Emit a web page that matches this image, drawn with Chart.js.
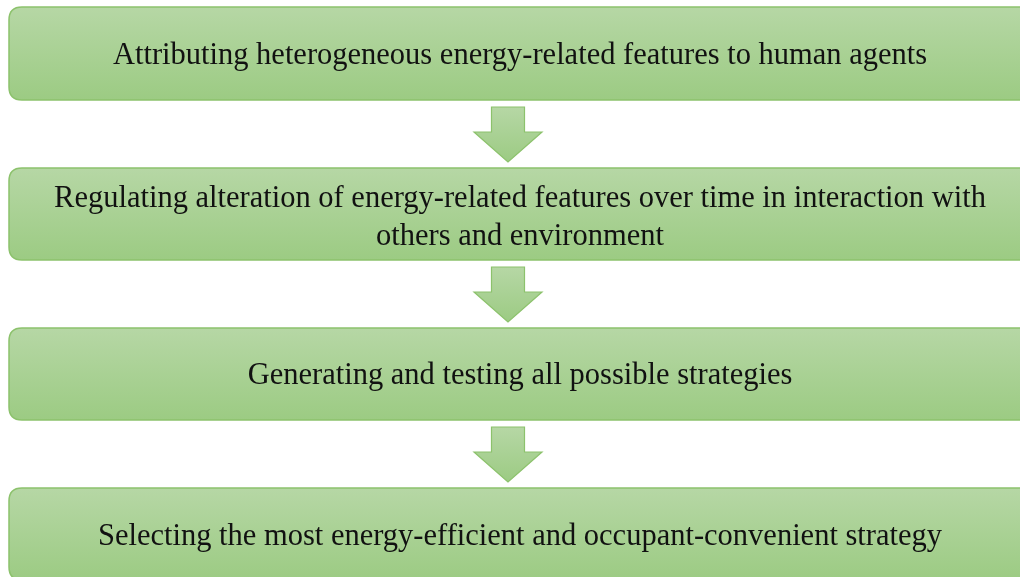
<!DOCTYPE html>
<html>
<head>
<meta charset="utf-8">
<script src="https://cdn.jsdelivr.net/npm/chart.js@4.4.0/dist/chart.umd.min.js"></script>
<style>
  html, body { margin: 0; padding: 0; background: #ffffff; }
  #wrap { width: 1020px; height: 577px; }
</style>
</head>
<body>
<div id="wrap"><canvas id="flowChart" width="1020" height="577"></canvas></div>
<script>
// Flow steps (text lines per box) and box extents in scale units
var stepLines = [
    ["Attributing heterogeneous energy-related features to human agents"],
    ["Regulating alteration of energy-related features over time in interaction with", "others and environment"],
    ["Generating and testing all possible strategies"],
    ["Selecting the most energy-efficient and occupant-convenient strategy"]
];
var boxTops = [7, 168, 328, 488];
var boxBottoms = [100, 260, 420, 580];
var textCenters = [56, 218, 376, 537];
var boxLeft = 9;
var boxRight = 1032;

// Arrows between boxes: [shaftTop, headBase, tip]
var arrowShaftTops = [107, 267, 427];
var arrowHeadBases = [132, 292, 452];
var arrowTips = [162, 322, 482];
var arrowCenter = 508;

function roundRect(ctx, x, y, w, h, r) {
    ctx.beginPath();
    ctx.moveTo(x + r, y);
    ctx.lineTo(x + w - r, y);
    ctx.quadraticCurveTo(x + w, y, x + w, y + r);
    ctx.lineTo(x + w, y + h - r);
    ctx.quadraticCurveTo(x + w, y + h, x + w - r, y + h);
    ctx.lineTo(x + r, y + h);
    ctx.quadraticCurveTo(x, y + h, x, y + h - r);
    ctx.lineTo(x, y + r);
    ctx.quadraticCurveTo(x, y, x + r, y);
    ctx.closePath();
}

var flowPlugin = {
    id: 'flowPlugin',
    afterDatasetsDraw: function (chart) {
        var ctx = chart.ctx;
        var xs = chart.scales.x, ys = chart.scales.y;
        ctx.save();

        // boxes
        for (var i = 0; i < boxTops.length; i++) {
            var x0 = xs.getPixelForValue(boxLeft), x1 = xs.getPixelForValue(boxRight);
            var y0 = ys.getPixelForValue(boxTops[i]), y1 = ys.getPixelForValue(boxBottoms[i]);
            var grad = ctx.createLinearGradient(0, y0, 0, y1);
            grad.addColorStop(0, '#b6d7a5');
            grad.addColorStop(1, '#9ccb83');
            roundRect(ctx, x0, y0, x1 - x0, y1 - y0, 13);
            ctx.fillStyle = grad;
            ctx.fill();
            ctx.lineWidth = 1.5;
            ctx.strokeStyle = '#8cc26c';
            ctx.stroke();

            // text
            var lines = stepLines[i];
            var lh = 38;
            var cy = ys.getPixelForValue(textCenters[i]);
            var startY = cy - (lines.length - 1) * lh / 2;
            ctx.fillStyle = '#111111';
            ctx.font = '30.5px "Liberation Serif", "Times New Roman", serif';
            ctx.textAlign = 'center';
            ctx.textBaseline = 'middle';
            for (var k = 0; k < lines.length; k++) {
                ctx.fillText(lines[k], xs.getPixelForValue(520), startY + k * lh);
            }
        }

        // arrows
        for (var j = 0; j < arrowTips.length; j++) {
            var cx = xs.getPixelForValue(arrowCenter);
            var sTop = ys.getPixelForValue(arrowShaftTops[j]);
            var hBase = ys.getPixelForValue(arrowHeadBases[j]);
            var tip = ys.getPixelForValue(arrowTips[j]);
            var sw = 16.5, hw = 34;
            ctx.beginPath();
            ctx.moveTo(cx - sw, sTop);
            ctx.lineTo(cx + sw, sTop);
            ctx.lineTo(cx + sw, hBase);
            ctx.lineTo(cx + hw, hBase);
            ctx.lineTo(cx, tip);
            ctx.lineTo(cx - hw, hBase);
            ctx.lineTo(cx - sw, hBase);
            ctx.closePath();
            var ag = ctx.createLinearGradient(0, sTop, 0, tip);
            ag.addColorStop(0, '#b6d7a5');
            ag.addColorStop(1, '#9ccb83');
            ctx.fillStyle = ag;
            ctx.fill();
            ctx.lineWidth = 1.2;
            ctx.strokeStyle = '#8cc26c';
            ctx.stroke();
        }
        ctx.restore();
    }
};

var flowChart = new Chart(document.getElementById('flowChart'), {
    type: 'scatter',
    data: { datasets: [{ data: [], pointRadius: 0 }] },
    options: {
        responsive: false,
        animation: false,
        devicePixelRatio: 1,
        layout: { padding: 0 },
        plugins: { legend: { display: false }, tooltip: { enabled: false } },
        scales: {
            x: { type: 'linear', min: 0, max: 1020, display: false },
            y: { type: 'linear', min: 0, max: 577, reverse: true, display: false }
        }
    },
    plugins: [flowPlugin]
});
</script>
</body>
</html>
